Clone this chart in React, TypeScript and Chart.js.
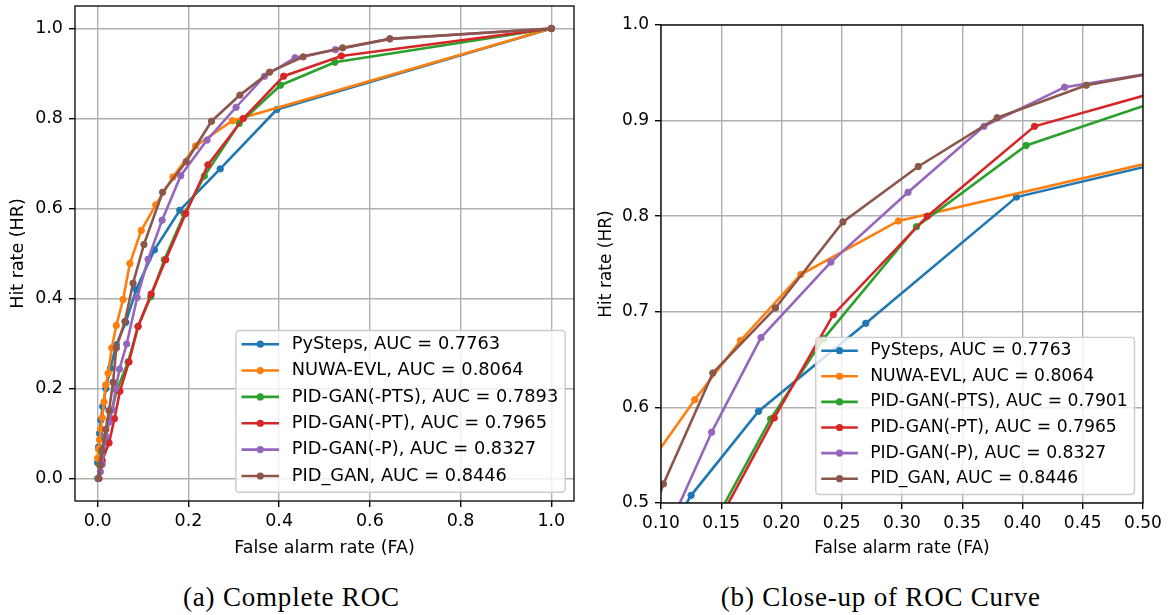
import React, { useEffect, useRef } from "react";
import { Chart, registerables } from "chart.js";

Chart.register(...registerables);

// ---------------- data ----------------
const seriesNames = ["PySteps", "NUWA-EVL", "PID-GAN(-PTS)", "PID-GAN(-PT)", "PID-GAN(-P)", "PID_GAN"];
const aucComplete = ["0.7763", "0.8064", "0.7893", "0.7965", "0.8327", "0.8446"];
const aucCloseUp = ["0.7763", "0.8064", "0.7901", "0.7965", "0.8327", "0.8446"];
const seriesColors = ["#1f77b4", "#ff7f0e", "#2ca02c", "#d62728", "#9467bd", "#8c564b"];

const pyStepsFA = [0.0, 0.002, 0.004, 0.007, 0.011, 0.018, 0.028, 0.041, 0.062, 0.085, 0.125, 0.181, 0.27, 0.395, 1.0];
const pyStepsHR = [0.035, 0.07, 0.1, 0.13, 0.16, 0.2, 0.245, 0.297, 0.347, 0.42, 0.508, 0.596, 0.688, 0.82, 1.0];

const nuwaFA = [0.0, 0.002, 0.004, 0.007, 0.01, 0.014, 0.018, 0.023, 0.031, 0.041, 0.056, 0.071, 0.096, 0.128, 0.166, 0.216, 0.297, 1.0];
const nuwaHR = [0.045, 0.065, 0.086, 0.11, 0.135, 0.17, 0.208, 0.234, 0.29, 0.34, 0.398, 0.478, 0.551, 0.608, 0.67, 0.739, 0.795, 1.0];

const ptsFA = [0.0, 0.004, 0.009, 0.016, 0.026, 0.042, 0.067, 0.089, 0.117, 0.147, 0.191, 0.235, 0.312, 0.403, 0.523, 1.0];
const ptsHR = [0.0, 0.03, 0.06, 0.09, 0.13, 0.195, 0.259, 0.338, 0.404, 0.486, 0.588, 0.672, 0.789, 0.874, 0.925, 1.0];

const ptFA = [0.002, 0.01, 0.025, 0.037, 0.049, 0.069, 0.089, 0.118, 0.15, 0.194, 0.243, 0.321, 0.41, 0.537, 1.0];
const ptHR = [0.0, 0.04, 0.079, 0.133, 0.194, 0.259, 0.338, 0.41, 0.486, 0.589, 0.697, 0.8, 0.894, 0.939, 1.0];

const pFA = [0.002, 0.006, 0.01, 0.018, 0.025, 0.032, 0.04, 0.048, 0.064, 0.087, 0.111, 0.142, 0.183, 0.241, 0.305, 0.368, 0.435, 0.524, 0.644, 1.0];
const pHR = [0.0, 0.015, 0.031, 0.094, 0.125, 0.153, 0.2, 0.243, 0.299, 0.402, 0.487, 0.574, 0.673, 0.752, 0.825, 0.894, 0.935, 0.953, 0.977, 1.0];

const pidFA = [0.003, 0.006, 0.01, 0.018, 0.025, 0.034, 0.041, 0.06, 0.078, 0.102, 0.143, 0.195, 0.251, 0.3135, 0.379, 0.453, 0.54, 0.644, 1.0];
const pidHR = [0.0, 0.03, 0.063, 0.109, 0.151, 0.214, 0.29, 0.349, 0.434, 0.52, 0.636, 0.704, 0.794, 0.852, 0.903, 0.937, 0.957, 0.977, 1.0];

const seriesFA = [pyStepsFA, nuwaFA, ptsFA, ptFA, pFA, pidFA];
const seriesHR = [pyStepsHR, nuwaHR, ptsHR, ptHR, pHR, pidHR];

const completeXTicks = [0.0, 0.2, 0.4, 0.6, 0.8, 1.0];
const completeYTicks = [0.0, 0.2, 0.4, 0.6, 0.8, 1.0];
const closeUpXTicks = [0.1, 0.15, 0.2, 0.25, 0.3, 0.35, 0.4, 0.45, 0.5];
const closeUpYTicks = [0.5, 0.6, 0.7, 0.8, 0.9, 1.0];

const xTitle = "False alarm rate (FA)";
const yTitle = "Hit rate (HR)";
const captionA = "(a) Complete ROC";
const captionB = "(b) Close-up of ROC Curve";

// ---------------- helpers ----------------
const FONT = "'DejaVu Sans', sans-serif";

const frameLegendPlugin = {
  id: "frameLegend",
  afterDatasetsDraw(chart: any) {
    const { ctx, chartArea: a } = chart;
    ctx.save();
    ctx.strokeStyle = "#000";
    ctx.lineWidth = 1.3;
    ctx.strokeRect(a.left, a.top, a.right - a.left, a.bottom - a.top);
    ctx.restore();
  },
  afterDraw(chart: any, _args: any, opts: any) {
    const { ctx, chartArea: a } = chart;
    const fs = opts.fontSize;
    const lfs = opts.legendFontSize;
    ctx.save();
    ctx.font = `${lfs}px ${FONT}`;
    const labels: string[] = chart.data.datasets.map((d: any) => d.label);
    const maxW = Math.max(...labels.map((l) => ctx.measureText(l).width));
    const pad = 0.4 * fs;
    const hl = 2 * fs;
    const htp = 0.8 * fs;
    const axpad = 0.5 * fs;
    const step = 1.506 * fs;
    const w = pad + hl + htp + maxW + pad;
    const h = 9.24 * fs;
    const x0 = a.right - axpad - w;
    const y0 = a.bottom - axpad - h;
    ctx.beginPath();
    ctx.roundRect(x0, y0, w, h, 0.2 * fs);
    ctx.fillStyle = "rgba(255,255,255,0.8)";
    ctx.fill();
    ctx.strokeStyle = "#cccccc";
    ctx.lineWidth = 1.4;
    ctx.stroke();
    chart.data.datasets.forEach((d: any, i: number) => {
      const cy = y0 + 0.78 * fs + i * step;
      const lx0 = x0 + pad;
      const lx1 = lx0 + hl;
      ctx.beginPath();
      ctx.moveTo(lx0, cy);
      ctx.lineTo(lx1, cy);
      ctx.strokeStyle = d.borderColor;
      ctx.lineWidth = 2.6;
      ctx.lineCap = "square";
      ctx.stroke();
      ctx.beginPath();
      ctx.arc((lx0 + lx1) / 2, cy, 3.6, 0, Math.PI * 2);
      ctx.fillStyle = d.borderColor;
      ctx.fill();
      ctx.fillStyle = "#000";
      ctx.textBaseline = "middle";
      ctx.textAlign = "left";
      ctx.fillText(d.label, lx1 + htp, cy);
    });
    ctx.restore();
  },
};

type Geometry = {
  fontSize: number;
  legendFontSize: number;
  xMin: number;
  xMax: number;
  yMin: number;
  yMax: number;
  xTicks: number[];
  yTicks: number[];
  xDec: number;
  yDec: number;
  padTop: number;
  padRight: number;
  yWidth: number;
  xHeight: number;
  yTitlePad: number;
  xTitlePad: number;
  auc: string[];
};

function makeConfig(g: Geometry): any {
  const datasets = seriesNames.map((name, i) => ({
    label: `${name}, AUC = ${g.auc[i]}`,
    data: seriesFA[i].map((x, j) => ({ x, y: seriesHR[i][j] })),
    showLine: true,
    borderColor: seriesColors[i],
    backgroundColor: seriesColors[i],
    pointBackgroundColor: seriesColors[i],
    pointBorderColor: seriesColors[i],
    borderWidth: 2.6,
    pointRadius: 3.2,
    pointBorderWidth: 1,
    pointHoverRadius: 3.2,
    tension: 0,
    clip: 0,
    order: seriesNames.length - i,
  }));
  const font = { family: FONT, size: g.fontSize };
  const grid = {
    color: "#b0b0b0",
    lineWidth: 1.4,
    tickColor: "#000",
    tickLength: 6,
    tickWidth: 1.4,
    drawTicks: true,
  };
  return {
    type: "scatter",
    data: { datasets },
    plugins: [frameLegendPlugin],
    options: {
      responsive: false,
      maintainAspectRatio: false,
      animation: false,
      events: [],
      layout: { padding: { left: 0, top: g.padTop, right: g.padRight, bottom: 0 } },
      plugins: {
        legend: { display: false },
        tooltip: { enabled: false },
        frameLegend: { fontSize: g.fontSize, legendFontSize: g.legendFontSize },
      },
      scales: {
        x: {
          type: "linear",
          position: "bottom",
          min: g.xMin,
          max: g.xMax,
          afterBuildTicks: (s: any) => {
            s.ticks = g.xTicks.map((v) => ({ value: v }));
          },
          afterFit: (s: any) => {
            s.height = g.xHeight;
            s.paddingLeft = 0;
            s.paddingRight = 0;
          },
          ticks: {
            autoSkip: false,
            maxRotation: 0,
            minRotation: 0,
            padding: 4,
            color: "#000",
            font,
            callback: (v: any) => Number(v).toFixed(g.xDec),
          },
          grid,
          border: { display: false },
          title: {
            display: true,
            text: xTitle,
            color: "#000",
            font,
            padding: { top: 0, bottom: g.xTitlePad },
          },
        },
        y: {
          type: "linear",
          position: "left",
          min: g.yMin,
          max: g.yMax,
          afterBuildTicks: (s: any) => {
            s.ticks = g.yTicks.map((v) => ({ value: v }));
          },
          afterFit: (s: any) => {
            s.width = g.yWidth;
            s.paddingTop = 0;
            s.paddingBottom = 0;
          },
          ticks: {
            autoSkip: false,
            padding: 6,
            color: "#000",
            font,
            callback: (v: any) => Number(v).toFixed(g.yDec),
          },
          grid,
          border: { display: false },
          title: {
            display: true,
            text: yTitle,
            color: "#000",
            font,
            padding: { top: g.yTitlePad, bottom: 0 },
          },
        },
      },
    },
  };
}

function ChartCanvas(props: { geometry: Geometry; left: number; width: number; height: number }) {
  const ref = useRef<HTMLCanvasElement | null>(null);
  useEffect(() => {
    if (!ref.current) return;
    const chart = new Chart(ref.current, makeConfig(props.geometry));
    return () => chart.destroy();
  }, []);
  return (
    <canvas
      ref={ref}
      width={props.width}
      height={props.height}
      style={{ position: "absolute", left: props.left, top: 0, width: props.width, height: props.height }}
    />
  );
}

const completeGeometry: Geometry = {
  fontSize: 17.5,
  legendFontSize: 17.8,
  xMin: -0.05,
  xMax: 1.05,
  yMin: -0.05,
  yMax: 1.05,
  xTicks: completeXTicks,
  yTicks: completeYTicks,
  xDec: 1,
  yDec: 1,
  padTop: 6,
  padRight: 26,
  yWidth: 75,
  xHeight: 59,
  yTitlePad: 8,
  xTitlePad: 1.5,
  auc: aucComplete,
};

const closeUpGeometry: Geometry = {
  fontSize: 17,
  legendFontSize: 17.2,
  xMin: 0.1,
  xMax: 0.5,
  yMin: 0.5,
  yMax: 1.0,
  xTicks: closeUpXTicks,
  yTicks: closeUpYTicks,
  xDec: 2,
  yDec: 1,
  padTop: 25,
  padRight: 30,
  yWidth: 71,
  xHeight: 57,
  yTitlePad: 6.8,
  xTitlePad: 0.8,
  auc: aucCloseUp,
};

function Caption(props: { text: string; center: number }) {
  return (
    <div
      style={{
        position: "absolute",
        left: props.center - 250,
        width: 500,
        top: 584,
        textAlign: "center",
        fontFamily: "'Liberation Serif', serif",
        fontSize: 27,
        lineHeight: "27px",
        letterSpacing: "0.8px",
        color: "#000",
        whiteSpace: "nowrap",
      }}
    >
      {props.text}
    </div>
  );
}

export default function App() {
  return (
    <div
      style={{
        position: "fixed",
        left: 0,
        top: 0,
        width: 1173,
        height: 615,
        background: "#fff",
        overflow: "hidden",
      }}
    >
      <ChartCanvas geometry={completeGeometry} left={0} width={600} height={560} />
      <ChartCanvas geometry={closeUpGeometry} left={590} width={583} height={560} />
      <Caption text={captionA} center={291.4} />
      <Caption text={captionB} center={880.8} />
    </div>
  );
}
